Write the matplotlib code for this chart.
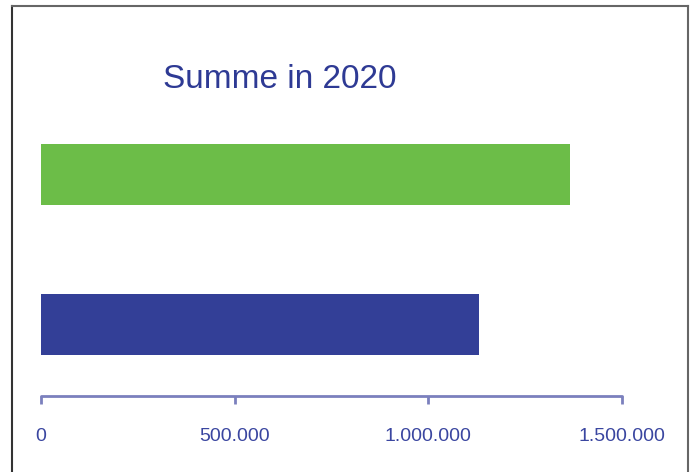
import matplotlib.pyplot as plt
from matplotlib.lines import Line2D

# Summen 2020
kategorien = ['Blau', 'Gruen']
werte = [1130000, 1365000]
farben = ['#333f97', '#6cbd48']
ticks = [0, 500000, 1000000, 1500000]

achse_farbe = '#7b80bd'
text_farbe = '#3a46a0'

plt.rcParams['font.family'] = ['Liberation Sans', 'DejaVu Sans']

fig = plt.figure(figsize=(6.93, 4.72), dpi=100)
W, H = 693, 472

# axes placement in pixels: x 0 -> 41, 1.5 Mio -> 622; bottom spine at y=396
ax = fig.add_axes([41 / W, 1 - 396 / H, 581 / W, (396 - 130) / H])
ax.barh(range(len(werte)), werte, height=0.41, color=farben, align='center')
ax.set_xlim(0, 1500000)
ax.set_ylim(-0.48, 1.30)

for s in ['top', 'right', 'left']:
    ax.spines[s].set_visible(False)
ax.spines['bottom'].set_color(achse_farbe)
ax.spines['bottom'].set_linewidth(2.0)
ax.spines['bottom'].set_capstyle('round')
ax.set_yticks([])
ax.set_xticks(ticks)
ax.set_xticklabels([f'{t:,}'.replace(',', '.') for t in ticks])
ax.tick_params(axis='x', direction='out', length=6, width=2.0,
               color=achse_farbe, labelcolor=text_farbe, labelsize=14, pad=17)

fig.text(280 / W, 1 - 88 / H, 'Summe in 2020', ha='center', va='baseline',
         fontsize=24, color='#2e3a94')

# frame around the chart, open at the bottom
fig.add_artist(Line2D([12 / W, 12 / W], [0, 1 - 5.5 / H], transform=fig.transFigure,
                      color='#333333', lw=1.5))
fig.add_artist(Line2D([12 / W, 687.5 / W], [1 - 5.5 / H, 1 - 5.5 / H],
                      transform=fig.transFigure, color='#666666', lw=1.5))
fig.add_artist(Line2D([687.5 / W, 687.5 / W], [0, 1 - 5.5 / H], transform=fig.transFigure,
                      color='#666666', lw=1.5))

fig.savefig('out.png', dpi=100)
